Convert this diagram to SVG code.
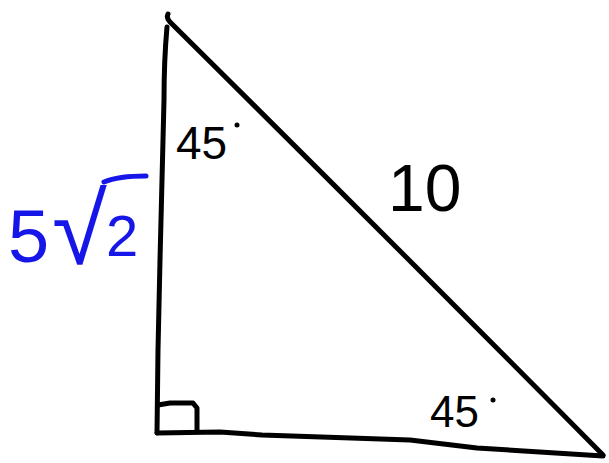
<svg xmlns="http://www.w3.org/2000/svg" width="609" height="463" viewBox="0 0 609 463">
<style>
.ln{fill:none;stroke:#000;stroke-width:5;stroke-linecap:round;stroke-linejoin:round}
.lbl{font-family:"Liberation Sans",Arial,sans-serif;fill:#000}
.blue{fill:#1616e8}
</style>
<rect width="609" height="463" fill="#fff"/>
<g id="triangle">
<path class="ln" d="M168,14 Q166,18 170,22 Q390,240 603,455"/>
<path class="ln" d="M167,27 Q164,60 164,100 L162,180 L160,260 L158,350 L157,433"/>
<path class="ln" d="M157,433 L220,432 L262,435 L410,440 L477,448 L603,456"/>
<path class="ln" d="M158,405 L170,403 L193,403 L197,408 L197,431"/>
</g>
<g id="labels">
<text class="lbl" x="176" y="159" font-size="46">45</text>
<circle cx="237" cy="125" r="2.5" fill="#000"/>
<text class="lbl" x="388" y="211" font-size="66">10</text>
<text class="lbl" x="430" y="427" font-size="44">45</text>
<circle cx="493" cy="400" r="2.5" fill="#000"/>
<text class="lbl blue" x="8" y="262" font-size="74">5</text>
<text class="lbl blue" x="52" y="264" font-size="100">√</text>
<text class="lbl blue" x="106" y="256" font-size="58">2</text>
<path d="M104,182 Q118,176 146,176" fill="none" stroke="#1616e8" stroke-width="5" stroke-linecap="round"/>
</g>
</svg>
